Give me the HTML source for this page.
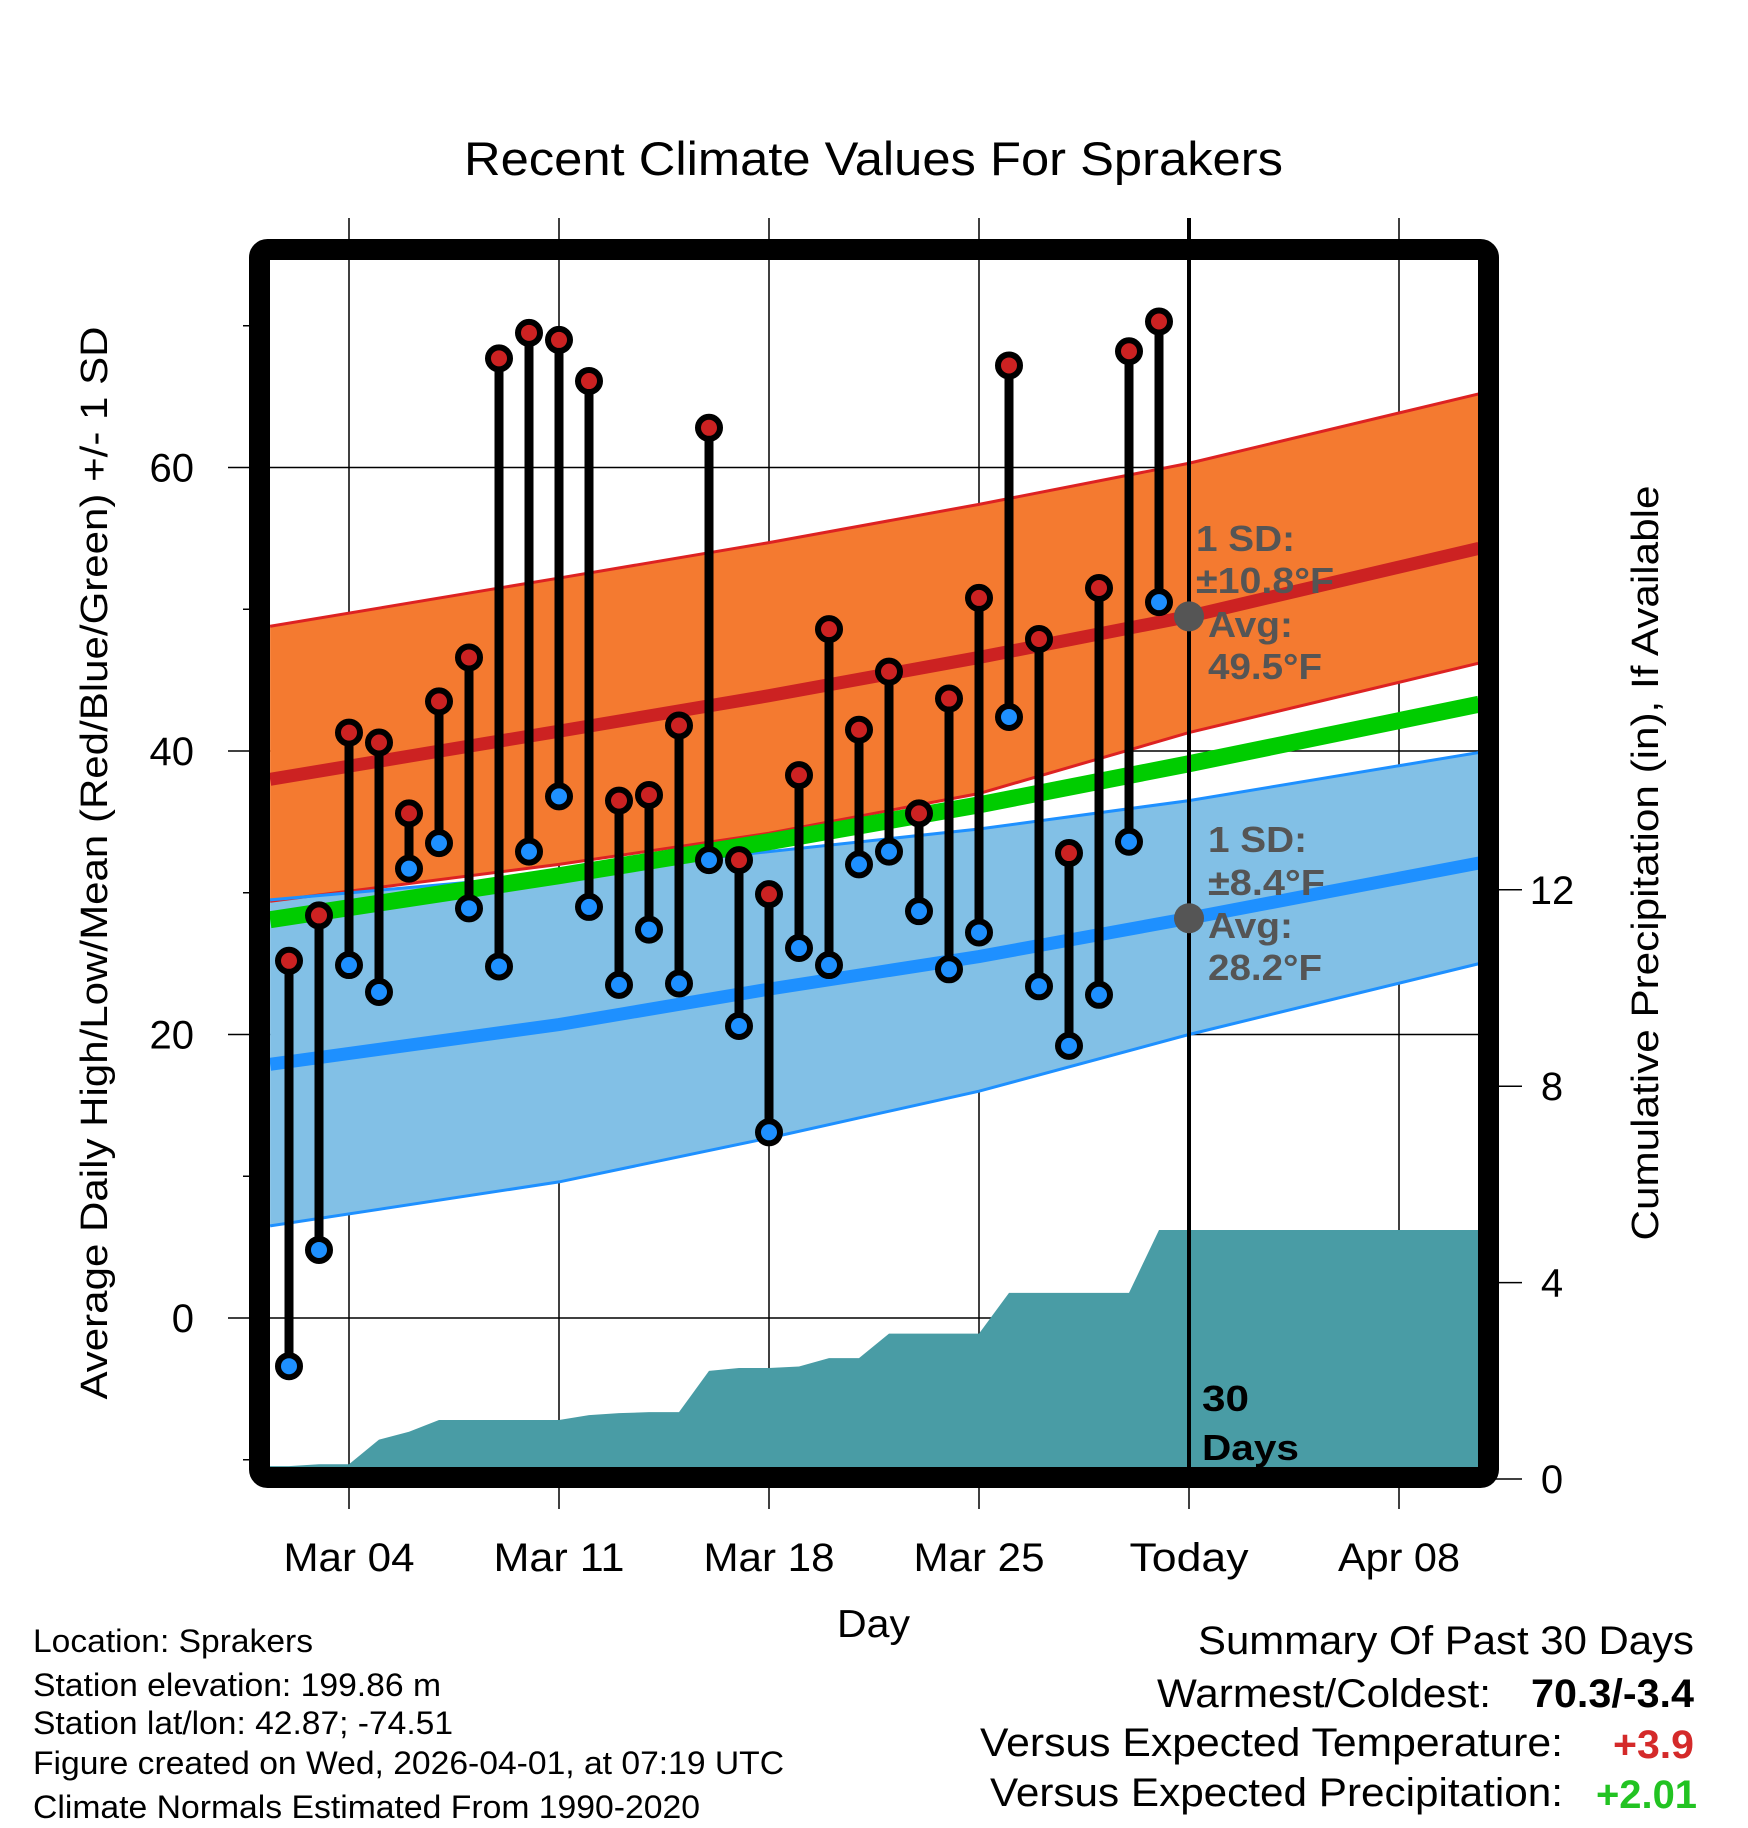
<!DOCTYPE html>
<html><head><meta charset="utf-8"><style>
html,body{margin:0;padding:0;background:#fff;}
svg{display:block;font-family:"Liberation Sans",sans-serif;}
</style></head><body>
<svg id="chart" width="1748" height="1828" viewBox="0 0 1748 1828" xmlns="http://www.w3.org/2000/svg">
<defs><clipPath id="plotclip"><rect x="270" y="260" width="1209" height="1210"/></clipPath></defs>
<text x="464" y="175" font-size="47" textLength="819" lengthAdjust="spacingAndGlyphs">Recent Climate Values For Sprakers</text>
<g id="grid"></g>
<g id="plot" clip-path="url(#plotclip)"></g>
<g id="marks"></g>
<rect x="259.5" y="249.5" width="1229" height="1228" rx="8" fill="none" stroke="#000" stroke-width="21"/>
<g id="axes"></g>
<text x="837" y="1637" font-size="39" textLength="73" lengthAdjust="spacingAndGlyphs">Day</text>
<text transform="translate(107,863) rotate(-90)" font-size="38" text-anchor="middle" textLength="1073" lengthAdjust="spacingAndGlyphs">Average Daily High/Low/Mean (Red/Blue/Green) +/- 1 SD</text>
<text transform="translate(1658,863) rotate(-90)" font-size="38" text-anchor="middle" textLength="755" lengthAdjust="spacingAndGlyphs">Cumulative Precipitation (in), If Available</text>
<g fill="#555" font-weight="bold" font-size="36" lengthAdjust="spacingAndGlyphs">
<text x="1196" y="551" textLength="99" lengthAdjust="spacingAndGlyphs">1 SD:</text>
<text x="1196" y="593" textLength="138" lengthAdjust="spacingAndGlyphs">±10.8°F</text>
<text x="1208" y="637" textLength="85" lengthAdjust="spacingAndGlyphs">Avg:</text>
<text x="1208" y="679" textLength="114" lengthAdjust="spacingAndGlyphs">49.5°F</text>
<text x="1208" y="852" textLength="99" lengthAdjust="spacingAndGlyphs">1 SD:</text>
<text x="1208" y="895" textLength="117" lengthAdjust="spacingAndGlyphs">±8.4°F</text>
<text x="1208" y="938" textLength="85" lengthAdjust="spacingAndGlyphs">Avg:</text>
<text x="1208" y="980" textLength="114" lengthAdjust="spacingAndGlyphs">28.2°F</text>
</g>
<g font-weight="bold" font-size="36">
<text x="1202" y="1411" textLength="47" lengthAdjust="spacingAndGlyphs">30</text>
<text x="1202" y="1460" textLength="97" lengthAdjust="spacingAndGlyphs">Days</text>
</g>
<g font-size="32">
<text x="33" y="1652" textLength="280" lengthAdjust="spacingAndGlyphs">Location: Sprakers</text>
<text x="33" y="1696" textLength="408" lengthAdjust="spacingAndGlyphs">Station elevation: 199.86 m</text>
<text x="33" y="1734" textLength="420" lengthAdjust="spacingAndGlyphs">Station lat/lon: 42.87; -74.51</text>
<text x="33" y="1774" textLength="751" lengthAdjust="spacingAndGlyphs">Figure created on Wed, 2026-04-01, at 07:19 UTC</text>
<text x="33" y="1818" textLength="667" lengthAdjust="spacingAndGlyphs">Climate Normals Estimated From 1990-2020</text>
</g>
<g font-size="40">
<text x="1198" y="1654" textLength="496" lengthAdjust="spacingAndGlyphs">Summary Of Past 30 Days</text>
<text x="1157" y="1707" textLength="334" lengthAdjust="spacingAndGlyphs">Warmest/Coldest:</text>
<text x="1531" y="1707" font-weight="bold" textLength="163" lengthAdjust="spacingAndGlyphs">70.3/-3.4</text>
<text x="980" y="1756" textLength="583" lengthAdjust="spacingAndGlyphs">Versus Expected Temperature:</text>
<text x="1613" y="1758" font-weight="bold" fill="#d42a2a" textLength="81" lengthAdjust="spacingAndGlyphs">+3.9</text>
<text x="990" y="1806" textLength="573" lengthAdjust="spacingAndGlyphs">Versus Expected Precipitation:</text>
<text x="1596" y="1808" font-weight="bold" fill="#22c322" textLength="101" lengthAdjust="spacingAndGlyphs">+2.01</text>
</g>
</svg>
<script>
// ---- data ----
const days = [2,3,4,5,6,7,8,9,10,11,12,13,14,15,16,17,18,19,20,21,22,23,24,25,26,27,28,29,30,31];
const highs = [25.2,28.4,41.3,40.6,35.6,43.5,46.6,67.7,69.5,69.0,66.1,36.5,36.9,41.8,62.8,32.3,29.9,38.3,48.6,41.5,45.6,35.6,43.7,50.8,67.2,47.9,32.8,51.5,68.2,70.3];
const lows = [-3.4,4.8,24.9,23.0,31.7,33.5,28.9,24.8,32.9,36.8,29.0,23.5,27.4,23.6,32.3,20.6,13.1,26.1,24.9,32.0,32.9,28.7,24.6,27.2,42.4,23.4,19.2,22.8,33.6,50.5];
const precip = [0.2,0.24,0.24,0.74,0.9,1.14,1.14,1.14,1.14,1.14,1.24,1.28,1.3,1.3,2.14,2.2,2.2,2.23,2.4,2.4,2.9,2.9,2.9,2.9,3.73,3.73,3.73,3.73,3.73,5.01];
const normDays = [1.37,11,18,25,32,41.67];
const normHigh = [38.0,41.4,43.9,46.6,49.5,54.3];
const normHighUp = [48.8,52.2,54.7,57.4,60.3,65.2];
const normHighLo = [29.4,32.0,34.2,37.0,41.3,46.2];
const normLow = [17.9,20.7,23.2,25.5,28.2,32.1];
const normLowUp = [29.5,31.3,32.9,34.5,36.5,39.9];
const normLowLo = [6.5,9.6,12.7,16.0,20.0,25.0];
const normMean = [28.1,31.2,33.6,36.2,39.1,43.3];
const xTickDays = [4,11,18,25,32,39];
const xTickLabels = ["Mar 04","Mar 11","Mar 18","Mar 25","Today","Apr 08"];
const yTicks = [0,20,40,60];
const yMinor = [-10,10,30,50,70];
const y2Ticks = [0,4,8,12];

// ---- axes ----
const NS="http://www.w3.org/2000/svg";
const X = d => 289 + (d-2)*30;
const Y = v => 1318 - v*14.175;
const Y2 = p => 1476 - p*49.1;
const LEFT=270, RIGHT=1479, TOP=260, BOT=1470;
function mk(tag, attrs, parent){const e=document.createElementNS(NS,tag);for(const k in attrs)e.setAttribute(k,attrs[k]);parent.appendChild(e);return e;}
const grid=document.getElementById('grid'), plot=document.getElementById('plot'), marks=document.getElementById('marks'), axes=document.getElementById('axes');

xTickDays.forEach((d,i)=>{
  const l=mk('line',{x1:X(d),x2:X(d),y1:218,y2:1509,stroke:'#000','stroke-width':1.5},grid);
  
  
  const lab=xTickLabels[i];
  const w = lab.startsWith('Mar') ? 131 : (lab==='Today' ? 119 : 122);
  const t=mk('text',{x:X(d),y:1571,'font-size':40,'text-anchor':'middle',textLength:w,lengthAdjust:'spacingAndGlyphs'},axes);
  t.textContent=lab;
  
  
});
yTicks.forEach(v=>{
  const l=mk('line',{x1:228,x2:RIGHT,y1:Y(v),y2:Y(v),stroke:'#000','stroke-width':1.5},grid);
  
  
  const t=mk('text',{x:194,y:Y(v)+14,'font-size':40,'text-anchor':'end'},axes);
  t.textContent=v;
  
  
});
yMinor.forEach(v=>{
  const l=mk('line',{x1:243,x2:252,y1:Y(v),y2:Y(v),stroke:'#000','stroke-width':1.5},axes);
  
  
});
y2Ticks.forEach(p=>{
  const l=mk('line',{x1:1496,x2:1522,y1:Y2(p)+3,y2:Y2(p)+3,stroke:'#000','stroke-width':1.5},axes);
  
  
  const t=mk('text',{x:1552,y:Y2(p)+17,'font-size':40,'text-anchor':'middle'},axes);
  t.textContent=p;
  
  
});

function linePts(arr){return normDays.map((d,i)=>X(d)+','+Y(arr[i])).join(' ');}
function bandPts(up,lo){return linePts(up)+' '+normDays.slice().reverse().map((d,i)=>X(d)+','+Y(lo[lo.length-1-i])).join(' ');}

let e;
e=mk('polygon',{points:bandPts(normHighUp,normHighLo),fill:'#f47a30'},plot);


e=mk('polygon',{points:bandPts(normLowUp,normLowLo),fill:'#82c0e6'},plot);


[[normHighUp,'#dd2222',3,'high-sd-upper'],[normHighLo,'#dd2222',3,'high-sd-lower'],[normLowUp,'#1e90ff',3,'low-sd-upper'],[normLowLo,'#1e90ff',3,'low-sd-lower'],
 [normHigh,'#cc2222',13,'normal-high-line'],[normLow,'#1e90ff',13,'normal-low-line'],[normMean,'#00cc00',17,'normal-mean-line']].forEach(a=>{
  const l=mk('polyline',{points:linePts(a[0]),fill:'none',stroke:a[1],'stroke-width':a[2]},plot);
  
  
});
// precipitation area
let pp=[[LEFT,Y2(precip[0])]];
days.forEach((d,i)=>pp.push([X(d),Y2(precip[i])]));
pp.push([RIGHT,Y2(precip[precip.length-1])],[RIGHT,BOT+10],[LEFT,BOT+10]);
e=mk('polygon',{points:pp.map(p=>p.join(',')).join(' '),fill:'#499ca5'},plot);


// today line
e=mk('line',{x1:X(32),x2:X(32),y1:218,y2:BOT,stroke:'#000','stroke-width':4},marks);


// stems and dots
days.forEach((d,i)=>{
  const s=mk('line',{x1:X(d),x2:X(d),y1:Y(highs[i]),y2:Y(lows[i]),stroke:'#000','stroke-width':9},marks);
  
  
});
days.forEach((d,i)=>{
  const h=mk('circle',{cx:X(d),cy:Y(highs[i]),r:11,fill:'#cc2222',stroke:'#000','stroke-width':6},marks);
  
  
  const l=mk('circle',{cx:X(d),cy:Y(lows[i]),r:11,fill:'#1e90ff',stroke:'#000','stroke-width':6},marks);
  
  
});
e=mk('circle',{cx:X(32),cy:Y(normHigh[4]),r:15,fill:'#555'},marks);


e=mk('circle',{cx:X(32),cy:Y(normLow[4]),r:15,fill:'#555'},marks);


</script>
</body></html>
